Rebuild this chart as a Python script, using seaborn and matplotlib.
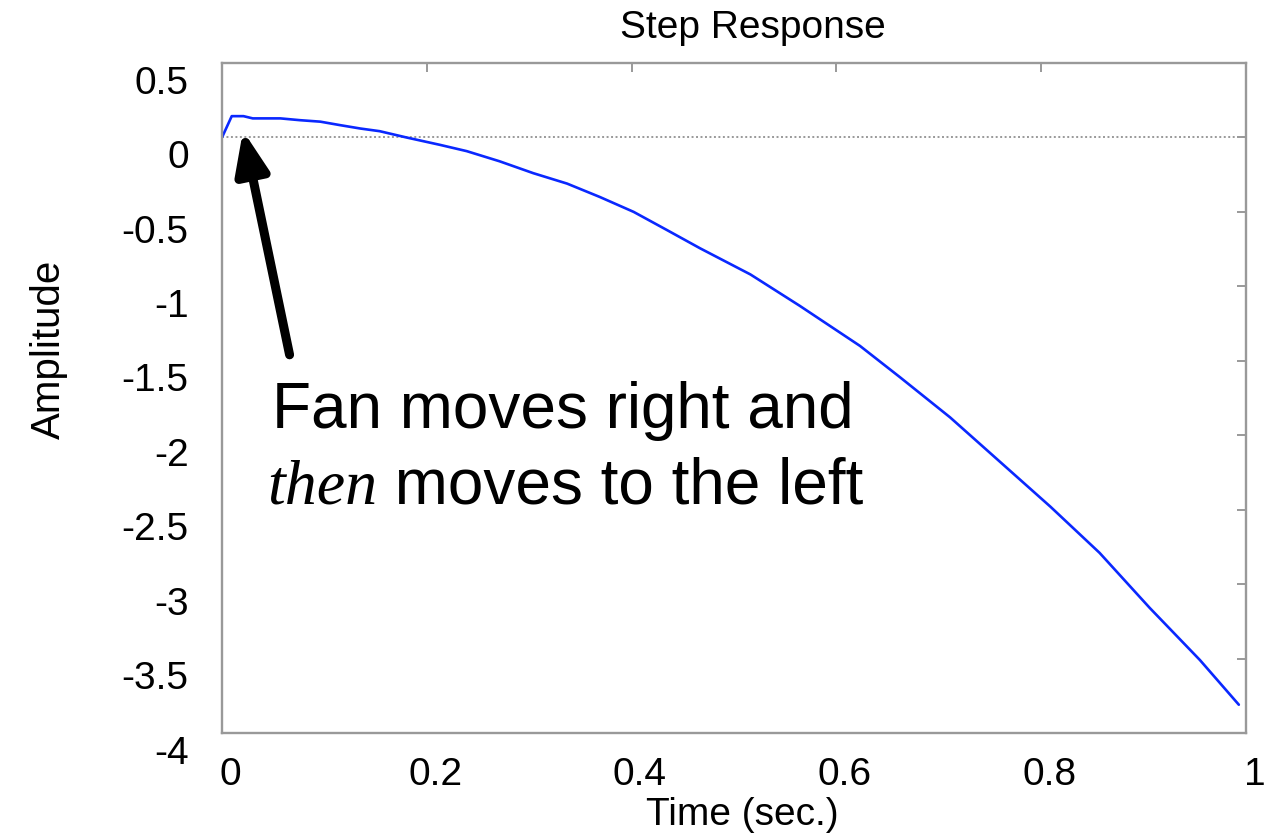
"""
Step response of the fan: reads right first, then swings left.
"""

import numpy as np
import pandas as pd
import matplotlib
matplotlib.use("Agg")
import matplotlib.pyplot as plt
import matplotlib.transforms as mtransforms
import seaborn as sns

# Values
time_s = [0.0, 0.0095, 0.021, 0.030, 0.057, 0.076, 0.096, 0.115, 0.135, 0.154,
          0.180, 0.213, 0.239, 0.271, 0.304, 0.337, 0.369, 0.402, 0.434, 0.467,
          0.516, 0.564, 0.623, 0.662, 0.711, 0.760, 0.809, 0.857, 0.906, 0.955,
          0.993]
amplitude = [0.0, 0.143, 0.143, 0.128, 0.128, 0.116, 0.106, 0.083, 0.060, 0.042,
             0.0, -0.050, -0.092, -0.160, -0.240, -0.310, -0.400, -0.500, -0.620, -0.745,
             -0.920, -1.130, -1.400, -1.610, -1.880, -2.180, -2.480, -2.790, -3.160, -3.510,
             -3.810]
x_ticks = [0, 0.2, 0.4, 0.6, 0.8, 1.0]
x_tick_labels = ["0", "0.2", "0.4", "0.6", "0.8", "1"]
y_ticks = [0.5, 0, -0.5, -1, -1.5, -2, -2.5, -3, -3.5, -4]
y_tick_labels = ["0.5", "0", "-0.5", "-1", "-1.5", "-2", "-2.5", "-3", "-3.5", "-4"]

sns.set_theme(style="white")
plt.rcParams["font.family"] = ["Liberation Sans", "DejaVu Sans"]
plt.rcParams["axes.unicode_minus"] = False

W, H = 1275, 835
fig = plt.figure(figsize=(W / 100, H / 100), dpi=100)
ax = fig.add_axes([222 / W, 1 - 733 / H, (1246 - 222) / W, (733 - 63) / H])

df = pd.DataFrame({"t": time_s, "y": amplitude})
sns.lineplot(data=df, x="t", y="y", ax=ax, color="#0a28ff", linewidth=1.9)
ax.axhline(0, color="#999999", linestyle=(0, (1, 1.3)), linewidth=1.4, zorder=1)

ax.set_xlim(0, 1)
ax.set_ylim(-4, 0.5)
ax.set_xticks(x_ticks)
ax.set_xticklabels(x_tick_labels)
ax.set_yticks(y_ticks)
ax.set_yticklabels(y_tick_labels)

gray = "#999999"
for s in ax.spines.values():
    s.set_color(gray)
    s.set_linewidth(1.7)
ax.tick_params(direction="in", top=True, right=True, length=6.5, width=1.4,
               color=gray, labelsize=28, labelcolor="black")
ax.tick_params(axis="y", pad=24)
ax.tick_params(axis="x", pad=17)

# MATLAB-style offset of tick labels
ydown = mtransforms.ScaledTranslation(0, -12 / 72, fig.dpi_scale_trans)
for lab in ax.get_yticklabels():
    lab.set_transform(lab.get_transform() + ydown)
xright = mtransforms.ScaledTranslation(6 / 72, 0, fig.dpi_scale_trans)
for lab in ax.get_xticklabels():
    lab.set_transform(lab.get_transform() + xright)

ax.set_title("Step Response", fontsize=28, x=0.518, pad=18, color="black")
ax.set_xlabel("Time (sec.)", fontsize=28, color="black")
ax.xaxis.set_label_coords(0.508, (733 - 825) / 670)
ax.xaxis.label.set_verticalalignment("baseline")
ax.set_ylabel("Amplitude", fontsize=29, color="black")
ax.yaxis.set_label_coords(-0.150, 0.573)

# arrow pointing at the initial rightward bump
ax.annotate("", xy=(0.0205, 0.045), xytext=(0.066, -1.46),
            arrowprops=dict(arrowstyle="-|>,head_width=0.5,head_length=1.25",
                            mutation_scale=20, lw=6.5, color="black",
                            shrinkA=0, shrinkB=0))

fig.text(563 / W, 1 - 428 / H, "Fan moves right and", fontsize=46,
         ha="center", va="baseline", color="black")
t_then = fig.text(267 / W, 1 - 503 / H, "then", fontsize=46, ha="left",
                  va="baseline", color="black", style="italic",
                  family=["Liberation Serif", "DejaVu Serif"])
renderer = fig.canvas.get_renderer()
bb = t_then.get_window_extent(renderer)
fig.text(bb.x1 / fig.bbox.width, 1 - 503 / H, " moves to the left", fontsize=46,
         ha="left", va="baseline", color="black")

fig.savefig("out.png", dpi=100)
